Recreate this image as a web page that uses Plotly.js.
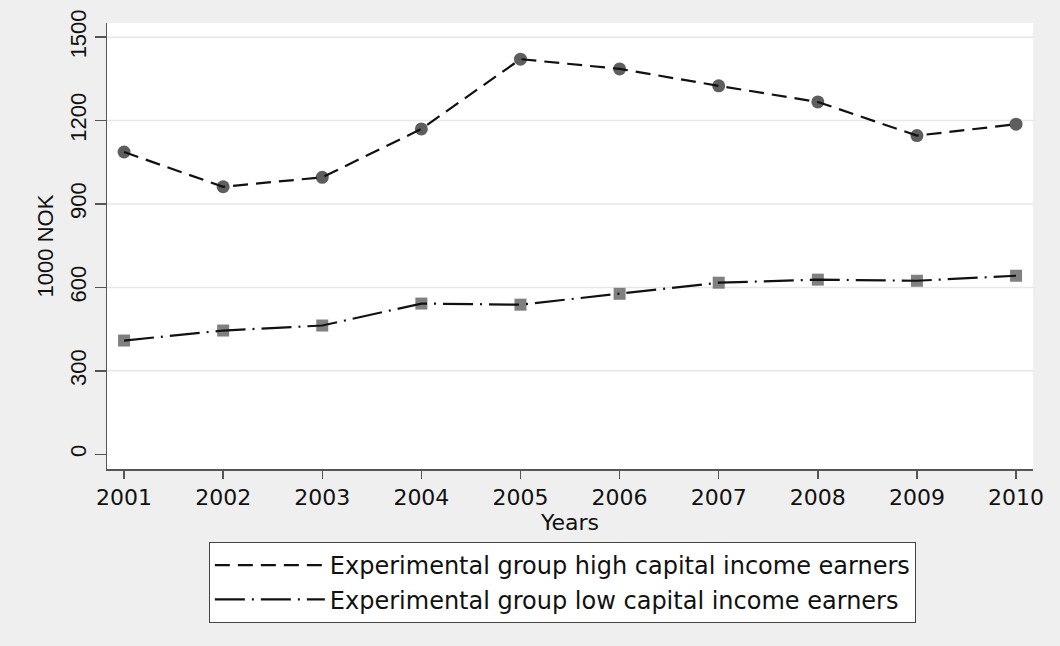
<!DOCTYPE html>
<html><head><meta charset="utf-8">
<script src="https://cdn.plot.ly/plotly-3.0.1.min.js"></script>
<style>html,body{margin:0;padding:0;background:#efefef}</style>
</head><body>
<div id="chart" style="width:1060px;height:646px"></div>
<script>
const years = [2001, 2002, 2003, 2004, 2005, 2006, 2007, 2008, 2009, 2010];
const highCapital = [1087, 962, 996, 1170, 1421, 1386, 1325, 1267, 1146, 1187];
const lowCapital = [409, 445, 463, 542, 538, 577, 617, 628, 624, 642];
const yTicks = [0, 300, 600, 900, 1200, 1500];
const gridTicks = [300, 600, 900, 1200, 1500];
const seriesNames = ['Experimental group high capital income earners', 'Experimental group low capital income earners'];

const traces = [
  {x: years, y: highCapital, mode: 'markers', type: 'scatter', showlegend: false, hoverinfo: 'skip',
   marker: {symbol: 'circle', size: 13, color: 'rgba(72,72,72,0.88)'}},
  {x: years, y: lowCapital, mode: 'markers', type: 'scatter', showlegend: false, hoverinfo: 'skip',
   marker: {symbol: 'square', size: 12, color: 'rgba(110,110,110,0.88)'}},
  {x: years, y: highCapital, mode: 'lines', type: 'scatter', name: seriesNames[0],
   line: {color: '#111', width: 2.2, dash: '15px,8px'}},
  {x: years, y: lowCapital, mode: 'lines', type: 'scatter', name: seriesNames[1],
   line: {color: '#111', width: 2.2, dash: '30px,7px,2px,7px'}}
];

const shapes = gridTicks.map(v => ({type: 'line', xref: 'paper', x0: 0, x1: 1, yref: 'y', y0: v, y1: v,
  line: {color: '#e6e6e6', width: 1.5}, layer: 'below'}));

const layout = {
  width: 1060, height: 646,
  paper_bgcolor: '#efefef', plot_bgcolor: '#ffffff',
  margin: {l: 107, r: 27, t: 23, b: 177},
  font: {family: 'DejaVu Sans, sans-serif', size: 22, color: '#111'},
  showlegend: true,
  legend: {x: 0.110, y: -0.1637, xanchor: 'left', yanchor: 'top', bgcolor: '#ffffff',
    bordercolor: '#444', borderwidth: 1, itemwidth: 110, font: {family: 'DejaVu Sans, sans-serif', size: 24, color: '#111'},
    tracegroupgap: 0},
  xaxis: {range: [2000.828, 2010.171], tickvals: years, ticktext: years.map(String), showgrid: false, zeroline: false,
    showline: true, linecolor: '#555', linewidth: 1.5, ticks: 'outside', ticklen: 8, tickcolor: '#555', tickwidth: 1.5,
    tickfont: {family: 'DejaVu Sans, sans-serif', size: 22, color: '#111'},
    title: {text: 'Years', standoff: 0, font: {family: 'DejaVu Sans, sans-serif', size: 22, color: '#111'}}},
  yaxis: {range: [-53, 1551], tickvals: yTicks, ticktext: yTicks.map(String), showgrid: false, zeroline: false,
    showline: true, linecolor: '#555', linewidth: 1.5, ticks: 'outside', ticklen: 11, tickcolor: '#555', tickwidth: 1.5,
    tickangle: -90, tickfont: {family: 'Liberation Sans, Arial, sans-serif', size: 22, color: '#111'},
    title: {text: '1000 NOK', standoff: 6, font: {family: 'Liberation Sans, Arial, sans-serif', size: 22, color: '#111'}}},
  shapes: shapes
};

Plotly.newPlot('chart', traces, layout, {displayModeBar: false, staticPlot: true});
</script>
</body></html>
